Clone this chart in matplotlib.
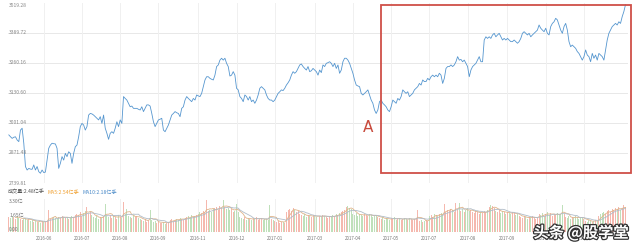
import matplotlib
matplotlib.use("Agg")
import matplotlib.pyplot as plt
import matplotlib.patheffects as pe
from matplotlib.patches import Rectangle
import numpy as np
import pandas as pd

plt.rcParams['font.family'] = ['Noto Sans CJK SC', 'DejaVu Sans']

# daily close (index points)
close = [
    2948, 2940, 2933, 2938, 2940, 2926, 2919, 2969, 2977, 2912,
    2811, 2796, 2803, 2800, 2799, 2818, 2796, 2811, 2789, 2782,
    2796, 2785, 2787, 2839, 2890, 2904, 2912, 2910, 2909, 2890,
    2803, 2825, 2854, 2839, 2868, 2854, 2875, 2868, 2825, 2868,
    2897, 2904, 2940, 2984, 2998, 2991, 2969, 2984, 3034, 3041,
    3039, 3034, 3027, 3020, 3013, 3027, 2998, 3034, 2977, 2955,
    2929, 2955, 2962, 2955, 2977, 3005, 2984, 3013, 2998, 3114,
    3106, 3099, 3085, 3070, 3073, 3063, 3063, 3063, 3059, 3056,
    3070, 3049, 3063, 3078, 3078, 3073, 3041, 3005, 2984, 2998,
    3013, 3016, 3020, 2969, 2962, 2977, 2991, 3013, 3034, 3041,
    3049, 3044, 3041, 3027, 3063, 3070, 3099, 3114, 3106, 3099,
    3092, 3106, 3099, 3121, 3117, 3114, 3128, 3157, 3186, 3200,
    3200, 3193, 3189, 3186, 3207, 3244, 3251, 3272, 3280, 3272,
    3280, 3258, 3244, 3203, 3207, 3222, 3207, 3150, 3143, 3114,
    3106, 3092, 3121, 3114, 3099, 3114, 3092, 3099, 3085, 3099,
    3121, 3150, 3157, 3150, 3143, 3121, 3106, 3099, 3099, 3092,
    3099, 3114, 3128, 3135, 3143, 3140, 3150, 3164, 3174, 3186,
    3207, 3222, 3215, 3222, 3236, 3251, 3255, 3244, 3236, 3229,
    3244, 3222, 3226, 3236, 3229, 3222, 3207, 3229, 3218, 3251,
    3244, 3258, 3261, 3265,
    3258, 3244, 3258, 3236, 3251, 3215, 3229, 3265, 3280, 3280,
    3272, 3258, 3236, 3215, 3186, 3164, 3160, 3157, 3128, 3121,
    3128, 3135, 3143, 3121, 3099, 3085, 3056, 3041, 3056, 3092,
    3099, 3085, 3078, 3070, 3056, 3049, 3070, 3099, 3092, 3085,
    3106, 3099, 3114, 3143, 3135, 3128, 3135, 3114, 3121, 3128,
    3143, 3150, 3157, 3171, 3164, 3186, 3179, 3179, 3193, 3186,
    3200, 3207, 3200, 3207, 3200, 3215, 3207, 3171, 3193, 3236,
    3244, 3244, 3251, 3244, 3251, 3265, 3287, 3272, 3275, 3265,
    3272, 3258, 3244, 3200, 3229, 3244, 3251, 3258, 3272, 3287,
    3265, 3265, 3359, 3373, 3366, 3373, 3366, 3381, 3388, 3373,
    3381, 3388, 3373, 3359, 3366, 3359, 3366, 3359, 3352, 3352,
    3359, 3352, 3345, 3352, 3366, 3388, 3395, 3388, 3381, 3388,
    3373, 3381, 3388, 3395, 3402, 3424, 3410, 3402, 3395, 3410,
    3388, 3381, 3417, 3431, 3438, 3453, 3446, 3424, 3402, 3388,
    3417, 3431, 3402, 3352, 3330, 3337, 3330, 3323, 3309, 3301,
    3287, 3272, 3287, 3316, 3294, 3287, 3265, 3301, 3280, 3294,
    3272, 3301, 3294, 3287, 3272, 3316, 3359, 3388, 3402, 3417,
    3424, 3431, 3424, 3438, 3431, 3460, 3482, 3512,
]

# daily volume (亿手)
volume = [
    1.5, 1.4, 1.6, 1.5, 1.3, 1.6, 1.4,
    1.3, 1.2, 1.3, 1.4, 1.2, 1.3, 1.1, 1.2,
    1.0, 1.1, 1.0, 1.05, 0.95, 1.1, 1.0, 1.05, 1.1,
    2.2,
    1.3, 1.4, 1.5, 1.4, 1.3, 1.5, 1.4, 1.6, 1.5, 1.4, 1.5, 1.3, 1.4, 1.6, 1.5, 1.7,
    1.8, 1.7, 2.0, 1.6, 1.9, 2.1, 2.5, 1.8, 2.0, 1.7,
    1.5, 1.4, 1.6, 1.3, 1.5, 1.4, 1.6,
    2.8,
    1.6, 1.5, 1.7, 1.4, 1.6, 1.5, 1.3, 1.7, 1.5, 1.4,
    3.0, 1.8, 2.3,
    1.6, 1.5, 1.4, 1.7, 1.5, 1.6, 1.4, 1.3,
    1.2, 1.1, 1.3, 1.0, 1.1, 2.2, 1.2, 1.0, 1.1,
    0.9, 1.0, 0.95, 0.9, 1.0, 0.85, 0.95, 1.0,
    1.2, 1.3, 1.1, 1.25, 1.3, 1.2, 1.4, 1.3, 1.25, 1.4,
    1.5, 1.6, 1.4, 1.7, 1.5, 1.6, 1.7, 1.8,
    2.0, 1.9, 2.1, 2.0, 3.2, 2.1, 2.2, 2.0,
    2.3, 2.4, 2.5, 2.2, 2.6, 2.4, 3.2, 2.5, 2.3, 2.4, 2.2, 2.3,
    2.0, 2.1, 2.8, 2.0,
    1.5, 1.4, 1.3, 1.5, 1.2, 1.4, 1.3, 1.2, 1.4, 1.3, 1.5, 1.2, 1.3, 1.4, 1.2, 1.3,
    1.3, 1.2, 2.7, 1.3, 1.2, 1.1,
    1.0, 1.1, 0.95, 1.0, 1.05, 0.9,
    2.0, 2.2, 2.3, 2.1, 2.4, 2.2, 2.0, 2.1,
    1.8, 1.7, 1.6, 1.8, 1.5, 1.7, 1.6, 1.5, 1.7, 1.6, 1.5, 1.6,
    1.6, 1.5, 1.7, 1.6, 1.5, 1.4, 1.6, 1.5, 1.7, 1.6, 1.8, 1.7, 1.9, 2.0, 2.1, 2.2,
    2.5, 2.6, 2.4, 2.3,
    1.8, 1.7, 1.9, 1.6, 1.8, 1.7, 1.6, 1.8, 1.7, 1.6, 1.8, 1.7, 1.5, 1.6, 1.7, 1.5,
    1.4, 1.3, 1.5, 1.2, 1.4, 1.3, 1.2, 1.4, 1.3, 1.5, 1.2, 1.3, 1.4, 1.2, 1.3, 1.4,
    1.3, 1.2, 1.4, 1.3, 1.2, 1.3, 1.4,
    2.2,
    1.1, 1.2, 1.0, 1.1, 1.2, 1.1,
    1.6, 1.7, 1.5, 1.8, 1.7, 1.6, 1.8, 1.9, 1.7,
    2.8,
    2.0, 2.2, 2.1, 2.3, 2.2, 2.0,
    2.9, 2.2, 2.9,
    2.1, 2.3, 2.0, 2.2, 2.4, 2.1, 2.2,
    2.0, 1.9, 2.1, 2.0, 1.8, 2.0, 1.9, 2.1, 2.0, 2.2,
    2.5, 2.7, 2.6, 2.4,
    2.1, 2.0, 2.2, 1.9, 2.1, 2.0, 1.8, 2.0, 1.9, 1.8, 2.0, 1.9, 1.7, 1.8,
    1.6, 1.5, 1.4, 1.6, 1.5, 1.3, 1.5, 1.4, 1.6, 1.5, 1.3, 1.4,
    1.8, 1.7, 1.9, 1.6, 1.8, 2.0, 1.7, 1.9, 1.6, 1.8, 1.7, 1.9,
    1.7, 1.8, 2.7, 1.8,
    1.5, 1.4, 1.6, 1.3, 1.5, 1.4, 1.6, 1.5, 1.3, 1.4, 1.5, 1.3,
    1.1, 1.0, 1.2, 1.1, 1.0, 1.1, 1.2, 1.1,
    1.6, 1.8, 1.9, 2.0, 1.8, 2.1, 2.2, 2.0,
    2.3, 2.2, 2.4, 2.3, 2.5, 2.2, 2.4, 2.7, 2.5,
]

tick_idx = [21, 44, 67, 90, 114, 137, 160, 184, 207, 230, 253, 276, 300, 323, 346]
tick_labels = ['2016-06', '2016-07', '2016-08', '2016-09', '2016-11', '2016-12',
               '2017-01', '2017-03', '2017-04', '2017-05', '2017-07', '2017-08',
               '2017-09', '2017-11', '2017-12']
price_labels = [3519.28, 3389.72, 3260.16, 3130.60, 3001.04, 2871.48, 2739.81]
vol_labels = ['3.30亿', '1.65亿', '0.00']
vol_levels = [3.30, 1.65, 0.0]

n = len(close)
x = np.arange(n)
xv = np.arange(len(volume))
m = min(n, len(volume))
diff = np.diff(np.array(close[:m]), prepend=close[0])
bar_colors = ['#f5b8ae' if d >= 0 else '#bfe0ba' for d in diff]
bar_colors += ['#f5b8ae'] * (len(volume) - m)

vs = pd.Series(volume)
ma5 = vs.rolling(5).mean()
ma10 = vs.rolling(10).mean()

fig = plt.figure(figsize=(6.39, 2.47), dpi=100)

# price panel
ax = fig.add_axes([8 / 639, 1 - 183 / 247, 620 / 639, 180 / 247])
ax.set_xlim(-0.5, 372.5)
ax.set_ylim(price_labels[-1], price_labels[0])
for v in price_labels[1:-1]:
    ax.axhline(v, color='#e8e8e8', lw=0.7, zorder=0)
for t in tick_idx:
    ax.axvline(t, color='#f0f0f0', lw=0.7, zorder=0)
ax.plot(x, close, color='#5596cf', lw=0.6, zorder=2)
for i, v in enumerate(price_labels):
    ax.text(0.002, v, f'{v:.2f}', transform=ax.get_yaxis_transform(),
            fontsize=3.6, color='#888888', va='top' if i == 0 else 'center',
            ha='left', zorder=3)
for s in ax.spines.values():
    s.set_visible(False)
ax.set_xticks([])
ax.set_yticks([])
ax.patch.set_alpha(0)

# red box and marker
ax.add_patch(Rectangle((224, 2783), 150.5, 3510 - 2783, fill=False,
                       edgecolor='#cf4f48', lw=1.3, clip_on=False, zorder=4))
ax.text(216, 2982, 'A', color='#c84a3c', fontsize=11, ha='center', va='center',
        family='DejaVu Sans')

# volume panel
axv = fig.add_axes([8 / 639, 1 - 232 / 247, 620 / 639, 33 / 247])
axv.set_xlim(-0.5, 372.5)
axv.set_ylim(0, 3.30)
for t in tick_idx:
    axv.axvline(t, color='#f0f0f0', lw=0.7, zorder=0)
axv.bar(xv, volume, width=0.6, color=bar_colors, zorder=1)
axv.plot(xv, ma5, color='#e0b48a', lw=0.6, zorder=2)
axv.plot(xv, ma10, color='#b0bcc8', lw=0.6, zorder=2)
for lab, lv in zip(vol_labels, vol_levels):
    axv.text(0.002, lv, lab, transform=axv.get_yaxis_transform(), fontsize=3.6,
             color='#777777', ha='left', va='top' if lv > 3 else ('bottom' if lv == 0 else 'center'),
             zorder=3)
for s in axv.spines.values():
    s.set_visible(False)
axv.set_yticks([])
axv.set_xticks(tick_idx)
axv.set_xticklabels(tick_labels, fontsize=3.2, color='#777777')
axv.tick_params(axis='x', length=0, pad=3)

# volume legend
ly = 1 - 192 / 247
fig.text(8 / 639, ly, '成交量:2.48亿手', fontsize=3.7, color='#555555', va='center')
fig.text(48 / 639, ly, 'MA5:2.54亿手', fontsize=3.7, color='#f0a030', va='center')
fig.text(83 / 639, ly, 'MA10:2.18亿手', fontsize=3.7, color='#4a8ac8', va='center')

# watermark (sits over the last tick labels, as in the source)
fig.text(581 / 639, 1 - 233 / 247, '头条 @股学堂', fontsize=11, color='white',
         ha='center', va='center', fontweight='bold',
         path_effects=[pe.withStroke(linewidth=1.8, foreground='#333333')])

fig.savefig('out.png', dpi=100)
